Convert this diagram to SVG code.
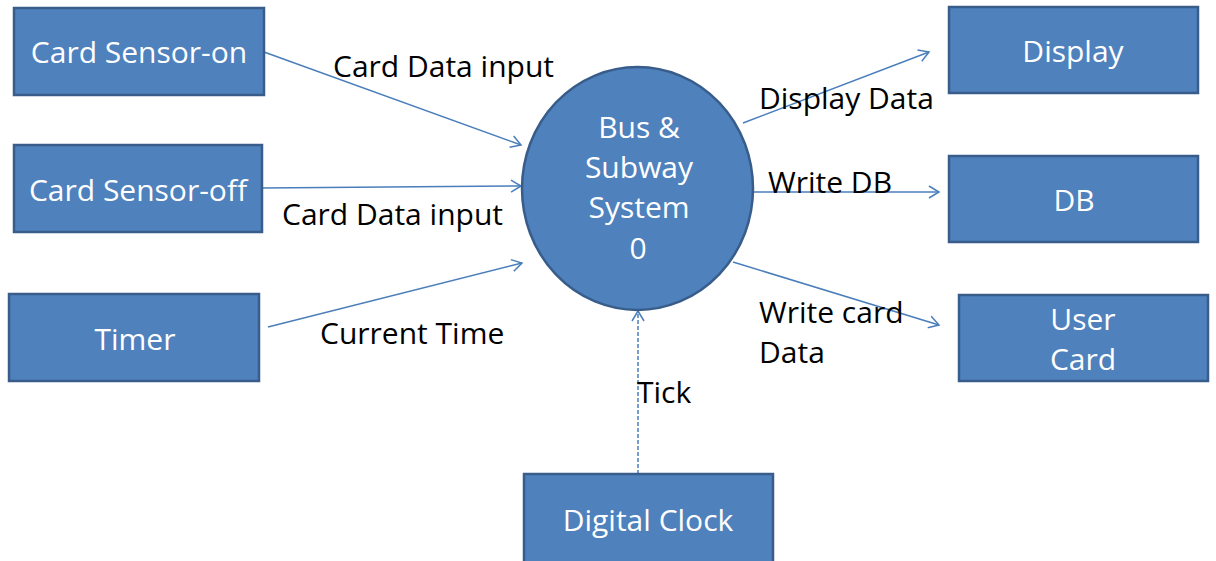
<svg xmlns="http://www.w3.org/2000/svg" width="1216" height="561" viewBox="0 0 1216 561">
<defs>
<marker id="arr" markerWidth="14" markerHeight="14" refX="12" refY="7" orient="auto" markerUnits="userSpaceOnUse">
<path d="M2,1 L12,7 L2,13" fill="none" stroke="#4A7EBB" stroke-width="1.5"/>
</marker>
<style>
.box{fill:#4F81BD;stroke:#385D8A;stroke-width:2.5}
.nt{font-family:"Open Sans","Noto Sans","Liberation Sans",sans-serif;font-size:30px;fill:#fff;text-anchor:middle}
.lb{font-family:"Open Sans","Noto Sans","Liberation Sans",sans-serif;font-size:30px;fill:#000}
.cn{fill:none;stroke:#4A7EBB;stroke-width:1.5;marker-end:url(#arr)}
</style>
</defs>
<rect width="1216" height="561" fill="#fff"/>
<g id="connectors">
<line class="cn" x1="264" y1="52" x2="521" y2="145"/>
<line class="cn" x1="262" y1="188" x2="521" y2="186"/>
<line class="cn" x1="268" y1="327" x2="522" y2="263"/>
<line class="cn" x1="743" y1="123" x2="929" y2="52"/>
<line class="cn" x1="752" y1="192" x2="939" y2="192"/>
<line class="cn" x1="733" y1="262" x2="939" y2="325"/>
<line class="cn" x1="638" y1="474" x2="638" y2="311" stroke-dasharray="4,2"/>
</g>
<g id="labels">
<text class="lb" x="333" y="77">Card Data input</text>
<text class="lb" x="282" y="225">Card Data input</text>
<text class="lb" x="320" y="344">Current Time</text>
<text class="lb" x="759" y="109">Display Data</text>
<text class="lb" x="768" y="193">Write DB</text>
<text class="lb" x="759" y="323">Write card</text>
<text class="lb" x="759" y="363">Data</text>
<text class="lb" x="637" y="403">Tick</text>
</g>
<g id="card-sensor-on"><rect class="box" x="14" y="8" width="250" height="87"/><text class="nt" x="139" y="63">Card Sensor-on</text></g>
<g id="card-sensor-off"><rect class="box" x="14" y="145" width="248" height="87"/><text class="nt" x="138" y="201">Card Sensor-off</text></g>
<g id="timer"><rect class="box" x="9" y="294" width="250" height="87"/><text class="nt" x="135" y="350">Timer</text></g>
<g id="system"><ellipse class="box" cx="637.5" cy="188.5" rx="115.5" ry="121.5"/>
<text class="nt" x="639" y="138">Bus &amp;</text>
<text class="nt" x="639" y="178">Subway</text>
<text class="nt" x="639" y="218">System</text>
<text class="nt" x="638" y="259">0</text></g>
<g id="display"><rect class="box" x="949" y="7" width="249" height="86"/><text class="nt" x="1073" y="62">Display</text></g>
<g id="db"><rect class="box" x="949" y="156" width="249" height="86"/><text class="nt" x="1074" y="211">DB</text></g>
<g id="user-card"><rect class="box" x="959" y="295" width="249" height="86"/><text class="nt" x="1083" y="330">User</text><text class="nt" x="1083" y="370">Card</text></g>
<g id="digital-clock"><rect class="box" x="524" y="474" width="249" height="90"/><text class="nt" x="648" y="531">Digital Clock</text></g>
</svg>
